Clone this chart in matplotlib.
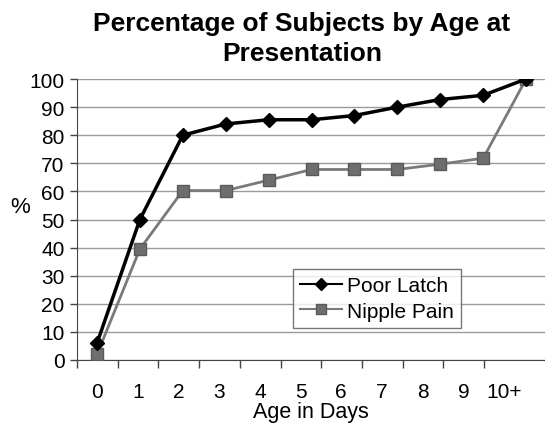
import numpy as np
import matplotlib.pyplot as plt

plt.rcParams['font.family'] = ['Liberation Sans', 'DejaVu Sans']

# ============================== DATA ==============================
days = ['0', '1', '2', '3', '4', '5', '6', '7', '8', '9', '10+']
poor_latch  = [6, 50, 80, 84, 85.5, 85.5, 87, 90, 92.7, 94.2, 100]
nipple_pain = [2, 39.5, 60.3, 60.3, 64, 67.8, 67.8, 67.8, 69.7, 71.8, 100]

# ============================== PLOT ==============================
fig = plt.figure(figsize=(5.45, 4.27), dpi=100)
ax = fig.add_axes([77/545, 66/427, 468/545, 281/427])

x = np.arange(len(days))
ax.plot(x, poor_latch, color='black', lw=2.5, marker='D', ms=7.5,
        mfc='black', mec='black', label='Poor Latch', zorder=4)
ax.plot(x, nipple_pain, color='#7a7a7a', lw=2.0, marker='s', ms=8,
        mfc='#6e6e6e', mec='#5a5a5a', label='Nipple Pain', zorder=3)

# label spacing differs slightly from point spacing in the original
lab_step = 40.7/42.9
ax.set_xlim(-0.466, 10.44)
ax.set_ylim(0, 100)
ax.set_xticks(x*lab_step)
ax.set_xticklabels(days, fontsize=15)
ax.set_xticks((-20 + 40.7*x)/42.9, minor=True)
ax.tick_params(axis='x', which='major', length=0, pad=16)
ax.tick_params(axis='x', which='minor', length=6, width=1, color='#444444', direction='out')
ax.set_yticks(np.arange(0, 101, 10))
ax.tick_params(axis='y', labelsize=15, length=5, width=1, color='#444444', pad=4)

ax.grid(axis='y', color='#9a9a9a', lw=1)
ax.set_axisbelow(True)
for s in ['top', 'right']:
    ax.spines[s].set_visible(False)
ax.spines['left'].set_color('#444444')
ax.spines['bottom'].set_color('#444444')

ax.set_xlabel('Age in Days', fontsize=15.5, labelpad=0)
fig.text(20/545, 1 - 208/427, '%', fontsize=16, ha='center', va='center')

fig.text(302/545, 1 - 39/427, 'Percentage of Subjects by Age at\nPresentation',
         fontsize=19, fontweight='bold', ha='center', va='center', linespacing=1.35)

leg = ax.legend(loc='lower left', bbox_to_anchor=(216/468, 32/281), fontsize=15,
                frameon=True, fancybox=False, handlelength=2.0, handletextpad=0.25,
                borderpad=0.35, labelspacing=0.3, borderaxespad=0, markerscale=0.85)
leg.get_frame().set_edgecolor('#555555')
leg.get_frame().set_linewidth(1)
for ln in leg.get_lines():
    ln.set_linewidth(1.5)

plt.savefig('out.png', dpi=100)
